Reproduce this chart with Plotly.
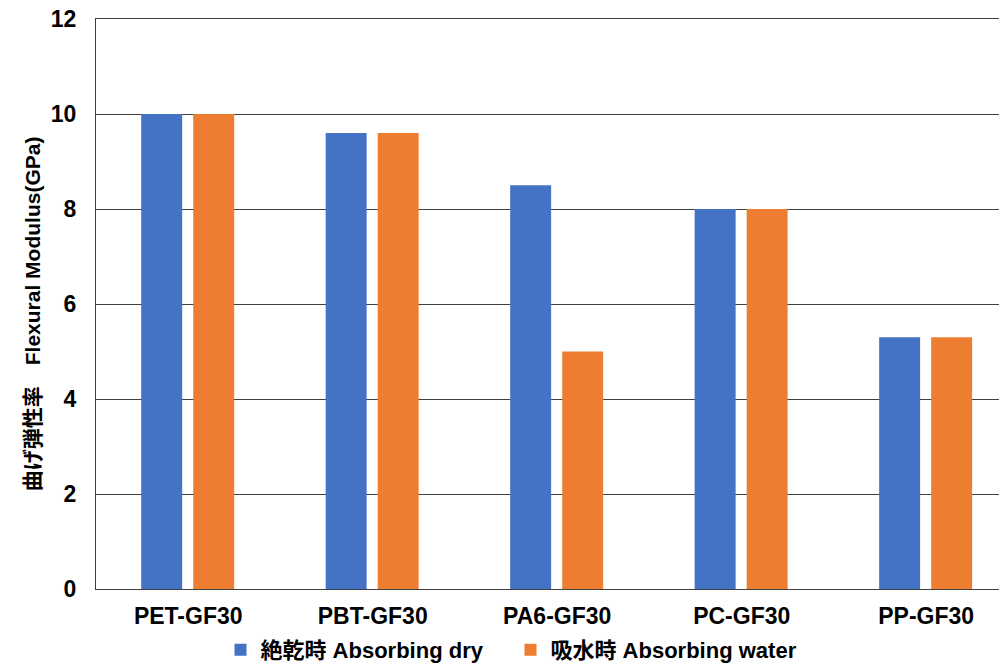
import plotly.graph_objects as go

categories = ["PET-GF30", "PBT-GF30", "PA6-GF30", "PC-GF30", "PP-GF30"]
dry_values = [10.0, 9.6, 8.5, 8.0, 5.3]
water_values = [10.0, 9.6, 5.0, 8.0, 5.3]
series_names = ["絶乾時 Absorbing dry", "吸水時 Absorbing water"]
y_ticks = [0, 2, 4, 6, 8, 10, 12]

FONT = "Liberation Sans, Arial, Noto Sans CJK JP, sans-serif"

fig = go.Figure()
fig.add_trace(go.Bar(x=categories, y=dry_values, name=series_names[0],
                     marker=dict(color="#4472C4", line=dict(width=0)),
                     width=0.222, offset=-0.255))
fig.add_trace(go.Bar(x=categories, y=water_values, name=series_names[1],
                     marker=dict(color="#ED7D31", line=dict(width=0)),
                     width=0.222, offset=0.027))

fig.update_layout(
    width=1007, height=669,
    margin=dict(l=88, r=8, t=11, b=88, autoexpand=False),
    plot_bgcolor="white", paper_bgcolor="white",
    font=dict(family=FONT, color="#000000"),
    barmode="overlay",
    legend=dict(orientation="h", x=0.455, xanchor="center", y=-0.107, yanchor="middle",
                font=dict(size=22, family=FONT, weight="bold"), traceorder="normal",
                itemwidth=30, entrywidthmode="pixels", entrywidth=245),
    xaxis=dict(range=[-0.5, 4.438], showgrid=False, showline=True, mirror=True,
               linecolor="#404040", linewidth=1.2, automargin=False,
               tickfont=dict(size=23, family=FONT, weight="bold"),
               ticks="", ticklabelstandoff=6, fixedrange=True),
    yaxis=dict(range=[0, 12], tickvals=y_ticks, showgrid=True, gridcolor="#404040", gridwidth=1.2,
               zeroline=True, zerolinecolor="#404040", zerolinewidth=1.2,
               showline=True, linecolor="#404040", linewidth=1.2, automargin=False,
               tickfont=dict(size=23, family=FONT, weight="bold"),
               ticks="", ticklabelstandoff=14, ticklabeloverflow="allow"),
)

fig.add_annotation(text="曲げ弾性率　Flexural Modulus(GPa)", textangle=-90,
                   xref="paper", yref="paper", x=(32 - 96) / 911, y=0.482,
                   xanchor="center", yanchor="middle", showarrow=False,
                   font=dict(size=21, family=FONT, weight="bold"))

fig.write_html("out.html")
